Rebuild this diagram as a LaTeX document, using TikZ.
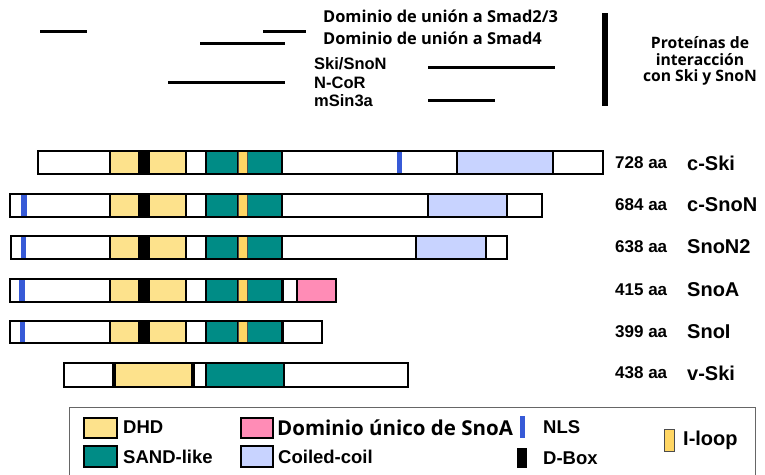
\documentclass[tikz,border=0pt]{standalone}
\usepackage{fontspec}
\setmainfont{Liberation Sans}
\newfontfamily\osfont{Open Sans}
\definecolor{dhdc}{RGB}{253,226,140}
\definecolor{sandc}{RGB}{0,140,134}
\definecolor{coilc}{RGB}{200,211,255}
\definecolor{pinkc}{RGB}{255,140,182}
\definecolor{nlsc}{RGB}{55,90,215}
\definecolor{iloopc}{RGB}{255,214,100}
\tikzset{
  outerbox/.style={draw=black, line width=2.6pt},
  dhd/.style={fill=dhdc, draw=black, line width=1.4pt},
  sand/.style={fill=sandc, draw=black, line width=1.4pt},
  coil/.style={fill=coilc, draw=black, line width=1.8pt},
  pinkseg/.style={fill=pinkc, draw=black, line width=1.8pt},
  dbox/.style={fill=black, draw=none},
  nls/.style={fill=nlsc, draw=none},
  iloop/.style={fill=iloopc, draw=black!70, line width=0.6pt},
  domline/.style={line width=3pt, line cap=butt},
  lab/.style={font=\bfseries\fontsize{17}{19}\selectfont, anchor=west, inner sep=0pt},
  pname/.style={font=\bfseries\fontsize{20}{22}\selectfont, anchor=west, inner sep=0pt},
  topl/.style={font=\osfont\bfseries\fontsize{16.4}{18}\selectfont, anchor=west, inner sep=0pt},
  prot/.style={font=\bfseries\fontsize{16.5}{18}\selectfont, anchor=west, inner sep=0pt},
  leg/.style={font=\bfseries\fontsize{18.5}{21}\selectfont, anchor=west, inner sep=0pt},
}
\newcommand\seg[3]{\path[#3] (#1,\yt) rectangle (#2,\yb);}
\newcommand\core{%
  \seg{110}{139}{dhd}\seg{139}{149}{dbox}\seg{149}{186}{dhd}%
  \seg{206}{238}{sand}\seg{247}{282}{sand}\seg{238}{247}{iloop}%
  \draw[line width=1.4pt] (186,\yt) -- (186,\yb);}
\begin{document}
\begin{tikzpicture}[x=1pt,y=-1pt]
\useasboundingbox (0,0) rectangle (765,474);

% ---- top: interaction domains
\draw[domline] (40,31) -- (87,31);
\draw[domline] (263,31) -- (306,31);
\draw[domline] (200,43) -- (285,43);
\draw[domline] (168,82) -- (285,82);
\draw[domline] (428,67) -- (555,67);
\draw[domline] (428,100) -- (495,100);
\fill[black] (602,13) rectangle (608,106);

\node[topl] (t1) at (323,16) {Dominio de unión a Smad2/3};
\node[topl] (t2) at (323,38) {Dominio de unión a Smad4};
\node[prot] (t3) at (314,64) {Ski/SnoN};
\node[prot] (t4) at (314,83) {N-CoR};
\node[prot] (t5) at (314,101) {mSin3a};
\node[font=\osfont\bfseries\fontsize{15.7}{16.7}\selectfont, align=center, inner sep=0pt] (t6) at (700,61) {Proteínas de\\interacción\\con Ski y SnoN};

% ---- c-Ski
\def\yt{151}\def\yb{174}
\fill[white] (38,\yt) rectangle (603,\yb);
\core
\seg{397}{402}{nls}
\seg{457}{553}{coil}
\draw[outerbox] (38,\yt) rectangle (603,\yb);
\node[lab] (n1) at (615,163) {728 aa};
\node[pname] (m1) at (687,163) {c-Ski};

% ---- c-SnoN
\def\yt{194}\def\yb{217}
\fill[white] (10,\yt) rectangle (542,\yb);
\core
\seg{21}{27}{nls}
\seg{428}{507}{coil}
\draw[outerbox] (10,\yt) rectangle (542,\yb);
\node[lab] (n2) at (615,205) {684 aa};
\node[pname] (m2) at (687,205) {c-SnoN};

% ---- SnoN2
\def\yt{236}\def\yb{259}
\fill[white] (11,\yt) rectangle (507,\yb);
\core
\seg{21}{26}{nls}
\seg{416}{486}{coil}
\draw[outerbox] (11,\yt) rectangle (507,\yb);
\node[lab] (n3) at (615,247) {638 aa};
\node[pname] (m3) at (687,247) {SnoN2};

% ---- SnoA
\def\yt{279}\def\yb{302}
\fill[white] (10,\yt) rectangle (336,\yb);
\core
\seg{19}{25}{nls}
\seg{297}{336}{pinkseg}
\draw[line width=1.4pt] (283,\yt) -- (283,\yb);
\draw[outerbox] (10,\yt) rectangle (336,\yb);
\node[lab] (n4) at (615,290) {415 aa};
\node[pname] (m4) at (687,290) {SnoA};

% ---- SnoI
\def\yt{321}\def\yb{343}
\fill[white] (10,\yt) rectangle (322,\yb);
\core
\seg{20}{25}{nls}
\draw[line width=1.4pt] (283,\yt) -- (283,\yb);
\draw[outerbox] (10,\yt) rectangle (322,\yb);
\node[lab] (n5) at (615,332) {399 aa};
\node[pname] (m5) at (687,332) {SnoI};

% ---- v-Ski
\def\yt{363}\def\yb{387}
\fill[white] (64,\yt) rectangle (408,\yb);
\draw[line width=1.4pt] (113,\yt) -- (113,\yb);
\seg{115}{192}{dhd}
\seg{206}{284}{sand}
\draw[line width=1.4pt] (194,\yt) -- (194,\yb);
\draw[outerbox] (64,\yt) rectangle (408,\yb);
\node[lab] (n6) at (615,373) {438 aa};
\node[pname] (m6) at (687,373) {v-Ski};

% ---- legend
\draw[black!60, line width=1pt] (69,407) rectangle (755,490);
\draw[dhd, line width=2.4pt] (84,418) rectangle (117,438);
\node[leg] (l1) at (123,427) {DHD};
\draw[sand, line width=2.4pt] (84,446) rectangle (117,467);
\node[leg] (l2) at (123,457) {SAND-like};
\draw[pinkseg, line width=2.4pt] (241,418) rectangle (273,438);
\node[leg, font=\osfont\bfseries\fontsize{20.5}{22}\selectfont] (l3) at (277,428) {Dominio único de SnoA};
\draw[coil, line width=2.4pt] (241,446) rectangle (273,467);
\node[leg] (l4) at (278,457) {Coiled-coil};
\fill[nlsc] (520,416) rectangle (525,438);
\node[leg] (l5) at (543,427) {NLS};
\fill[black] (517,448) rectangle (527,468);
\node[leg] (l6) at (543,458) {D-Box};
\draw[iloop, line width=0.8pt] (664,429) rectangle (674,451);
\node[leg, font=\bfseries\fontsize{20}{22}\selectfont] (l7) at (683,440) {I-loop};
\end{tikzpicture}
\end{document}
